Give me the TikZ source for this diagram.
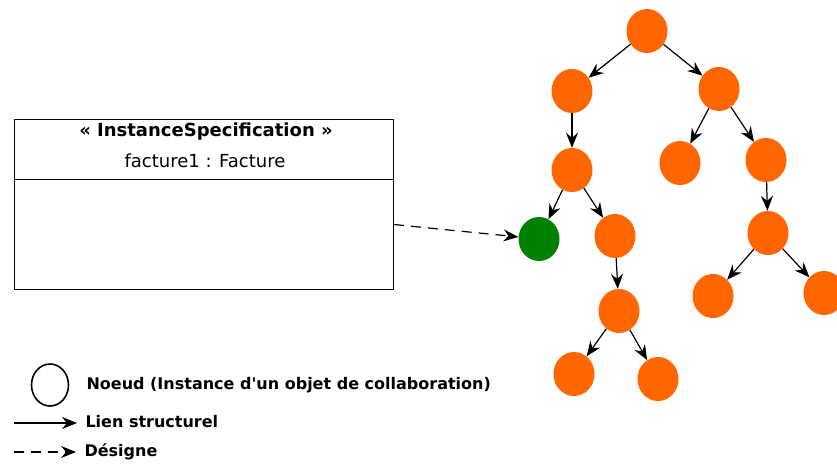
\documentclass[tikz,border=0pt]{standalone}
\usepackage{fontspec}
\setmainfont{DejaVu Sans}
\definecolor{orangenode}{HTML}{FF6600}
\definecolor{greennode}{HTML}{008000}
\usetikzlibrary{shapes.geometric,arrows.meta,positioning}

\tikzset{
  noeud/.style={ellipse,fill=orangenode,minimum width=41pt,minimum height=44pt,inner sep=0pt},
  lien/.style={line width=1.2pt,-{Stealth[length=15pt,width=12pt,inset=5pt]}},
  designe/.style={lien,dash pattern=on 10pt off 7pt}
}

\begin{document}
\begin{tikzpicture}[x=1pt,y=-1pt]
  \useasboundingbox (0,0) rectangle (837,463);
  % instance specification box
  \node[draw,line width=1pt,anchor=north west,minimum width=379pt,minimum height=170pt] (spec) at (14,119) {};
  \draw[line width=1pt] (spec.west |- 0,179) -- (spec.east |- 0,179);
  \node[font=\fontsize{18}{22}\selectfont\bfseries] (stereo) at (206,132) {« InstanceSpecification »};
  \node[font=\fontsize{18}{22}\selectfont] (nom) at (205,161) {facture1 : Facture};
  % tree nodes
  \node[noeud] (top) at (647,31) {};
  \node[noeud] (lA) at (572,91) {};
  \node[noeud] (rA) at (719,89) {};
  \node[noeud] (lB) at (572,170) {};
  \node[noeud] (rB1) at (680,163) {};
  \node[noeud] (rB2) at (766,160) {};
  \node[noeud,fill=greennode] (cible) at (539,239) {};
  \node[noeud] (lC) at (615,236) {};
  \node[noeud] (rC) at (768,233) {};
  \node[noeud] (lD) at (619,311) {};
  \node[noeud] (rD1) at (713,296) {};
  \node[noeud] (rD2) at (824,293) {};
  \node[noeud] (lE1) at (574,374) {};
  \node[noeud] (lE2) at (658,379) {};
  % structural links
  \draw[lien] (top) -- (lA);
  \draw[lien] (top) -- (rA);
  \draw[lien] (lA) -- (lB);
  \draw[lien] (rA) -- (rB1);
  \draw[lien] (rA) -- (rB2);
  \draw[lien] (lB) -- (cible);
  \draw[lien] (lB) -- (lC);
  \draw[lien] (rB2) -- (rC);
  \draw[lien] (lC) -- (lD);
  \draw[lien] (rC) -- (rD1);
  \draw[lien] (rC) -- (rD2);
  \draw[lien] (lD) -- (lE1);
  \draw[lien] (lD) -- (lE2);
  % designation
  \draw[designe] ([yshift=-20pt]spec.east) -- (cible);
  % legend
  \node[ellipse,draw,line width=1.6pt,minimum width=37pt,minimum height=42pt] (legnoeud) at (50,385) {};
  \node[anchor=west,font=\fontsize{16}{19}\selectfont\bfseries] (txtnoeud) at (83,385) {Noeud (Instance d\textquotesingle un objet de collaboration)};
  \coordinate (lienA) at (14,423);
  \coordinate (lienB) at (77,423);
  \draw[lien] (lienA) -- (lienB);
  \node[anchor=west,font=\fontsize{16}{19}\selectfont\bfseries] (txtlien) at (82,422) {Lien structurel};
  \coordinate (desA) at (14,452);
  \coordinate (desB) at (76,452);
  \draw[designe] (desA) -- (desB);
  \node[anchor=west,font=\fontsize{16}{19}\selectfont\bfseries] (txtdes) at (81,452) {Désigne};
\end{tikzpicture}
\end{document}
